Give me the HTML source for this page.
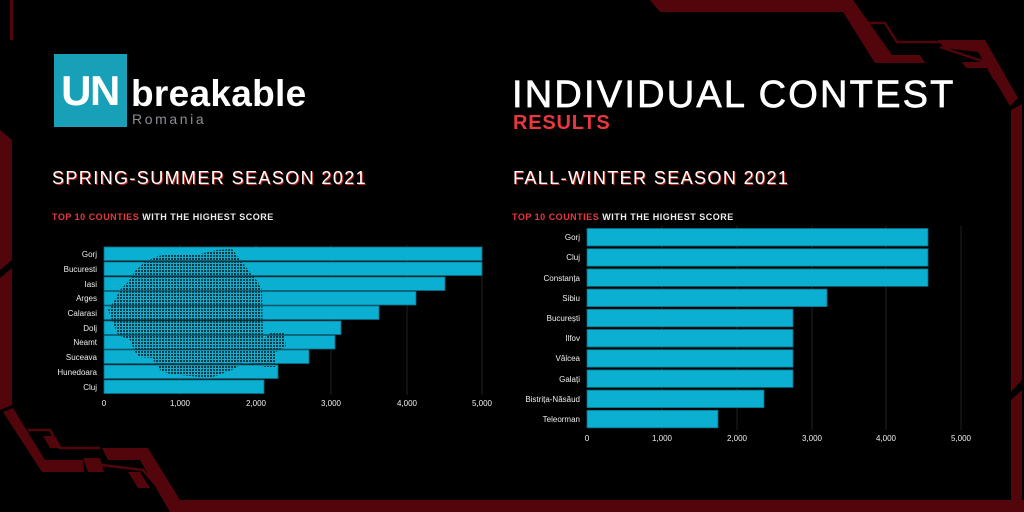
<!DOCTYPE html>
<html><head><meta charset="utf-8"><style>
body{margin:0;width:1024px;height:512px;background:#000;overflow:hidden;font-family:"Liberation Sans",sans-serif;}
svg{position:absolute;left:0;top:0}
</style></head><body>
<svg width="1024" height="512" viewBox="0 0 1024 512">
<defs>
<pattern id="dots" width="3" height="3" patternUnits="userSpaceOnUse"><rect width="2" height="2" fill="#123a44"/></pattern>
</defs>
<g fill="#52060b">
<!-- top -->
<polygon points="650,0 853,0 892,55 920,55 925,63 875,63 843,12 660,12"/>
<polygon points="938,40 985,40 1018,98 1010,106 978,52 944,48"/>
<polygon points="962,62 990,62 994,68 966,68"/>
<!-- right -->
<polygon points="1011,110 1022,104 1022,380 1011,392"/>
<polygon points="1011,400 1022,390 1022,512 1011,512"/>
<!-- left -->
<polygon points="0,130 12,140 12,260 0,270"/>
<polygon points="0,278 12,268 12,405 0,410"/>
<rect x="10" y="0" width="3" height="40"/>
<!-- bottom -->
<polygon points="3,412 13,408 45,460 83,460 84,472 42,472"/>
<polygon points="102,448 148,448 180,500 1024,500 1024,512 170,512 140,460 108,460"/>
<polygon points="43,436 55,436 62,448 50,448"/>
<polygon points="83,458 100,458 104,472 88,472"/>
<polygon points="128,472 140,472 150,488 138,488"/>
</g>
<g fill="none" stroke="#52060b" stroke-width="2.5">
<polyline points="28,430 50,430 60,448 100,448"/>
<polyline points="85,463 143,470 160,490"/>
<polyline points="865,23 885,23 897,42 940,42"/>
<polyline points="940,47 985,62 995,80"/>
</g>
<!-- logo -->
<rect x="54" y="54" width="73" height="73" fill="#17a0b8"/>
<text x="90" y="105" fill="#fff" font-size="42" font-weight="bold" text-anchor="middle" letter-spacing="-1.5">UN</text>
<text x="131" y="106" fill="#fff" font-size="37" font-weight="bold" letter-spacing="0.3">breakable</text>
<text x="132" y="124" fill="#8a8f96" font-size="14" letter-spacing="2.6">Romania</text>
<!-- headings -->
<text x="512" y="107" fill="#fff" stroke="#fff" stroke-width="0.7" font-size="38" letter-spacing="2.2">INDIVIDUAL CONTEST</text>
<text x="513" y="129" fill="#e8383f" font-size="20" font-weight="bold" letter-spacing="0.8">RESULTS</text>
<g font-size="18" letter-spacing="1.4">
<text x="53" y="185" fill="#b8281f">SPRING-SUMMER SEASON 2021</text>
<text x="52" y="184" fill="#fff">SPRING-SUMMER SEASON 2021</text>
<text x="514" y="185" fill="#b8281f">FALL-WINTER SEASON 2021</text>
<text x="513" y="184" fill="#fff">FALL-WINTER SEASON 2021</text>
</g>
<g font-size="9" font-weight="bold" letter-spacing="0.5">
<text x="52" y="220"><tspan fill="#e8383f">TOP 10 COUNTIES</tspan><tspan fill="#eee"> WITH THE HIGHEST SCORE</tspan></text>
<text x="512" y="220"><tspan fill="#e8383f">TOP 10 COUNTIES</tspan><tspan fill="#eee"> WITH THE HIGHEST SCORE</tspan></text>
</g>
<!-- left chart -->
<g stroke="#222" stroke-width="1">
<line x1="180" y1="245" x2="180" y2="395"/><line x1="256" y1="245" x2="256" y2="395"/><line x1="331" y1="245" x2="331" y2="395"/><line x1="407" y1="245" x2="407" y2="395"/><line x1="482" y1="245" x2="482" y2="395"/>
</g>
<g fill="#0bafd1" stroke="#0a6d82" stroke-width="0.8">
<rect x="104" y="247" width="378" height="13.5"/>
<rect x="104" y="262" width="378" height="13.5"/>
<rect x="104" y="277" width="341" height="13.5"/>
<rect x="104" y="291.5" width="312" height="13.5"/>
<rect x="104" y="306" width="275" height="13.5"/>
<rect x="104" y="321" width="237" height="13.5"/>
<rect x="104" y="335.5" width="231" height="13.5"/>
<rect x="104" y="350" width="205" height="13.5"/>
<rect x="104" y="365" width="174" height="13.5"/>
<rect x="104" y="380" width="160" height="13.5"/>
</g>
<polygon fill="url(#dots)" points="158,256 170,254 200,254 216,250 232,249 242,262 250,272 258,282 262,290 263,340 270,333 284,333 286,346 276,352 275,367 265,367 245,362 232,370 210,378 170,374 160,370 152,358 140,357 135,352 130,340 118,335 112,320 108,310 115,300 120,290 128,282 136,270 145,262"/>
<g fill="#eee" font-size="8" text-anchor="end">
<text x="97" y="257">Gorj</text><text x="97" y="272">Bucuresti</text><text x="97" y="287">Iasi</text><text x="97" y="301">Arges</text><text x="97" y="316">Calarasi</text><text x="97" y="331">Dolj</text><text x="97" y="345">Neamt</text><text x="97" y="360">Suceava</text><text x="97" y="375">Hunedoara</text><text x="97" y="390">Cluj</text>
</g>
<g fill="#eee" font-size="8" text-anchor="middle">
<text x="104" y="406">0</text><text x="180" y="406">1,000</text><text x="256" y="406">2,000</text><text x="331" y="406">3,000</text><text x="407" y="406">4,000</text><text x="482" y="406">5,000</text>
</g>
<!-- right chart -->
<g stroke="#222" stroke-width="1">
<line x1="662" y1="226" x2="662" y2="430"/><line x1="737" y1="226" x2="737" y2="430"/><line x1="812" y1="226" x2="812" y2="430"/><line x1="886" y1="226" x2="886" y2="430"/><line x1="961" y1="226" x2="961" y2="430"/>
</g>
<g fill="#0bafd1" stroke="#0a6d82" stroke-width="0.8">
<rect x="587" y="228.5" width="341" height="17.5"/>
<rect x="587" y="248.7" width="341" height="17.5"/>
<rect x="587" y="268.9" width="341" height="17.5"/>
<rect x="587" y="289.1" width="240" height="17.5"/>
<rect x="587" y="309.3" width="206" height="17.5"/>
<rect x="587" y="329.5" width="206" height="17.5"/>
<rect x="587" y="349.7" width="206" height="17.5"/>
<rect x="587" y="369.9" width="206" height="17.5"/>
<rect x="587" y="390.1" width="177" height="17.5"/>
<rect x="587" y="410.3" width="131" height="17.5"/>
</g>
<g fill="#eee" font-size="8" text-anchor="end">
<text x="580" y="240">Gorj</text><text x="580" y="260">Cluj</text><text x="580" y="281">Constanța</text><text x="580" y="301">Sibiu</text><text x="580" y="321">București</text><text x="580" y="341">Ilfov</text><text x="580" y="361">Vâlcea</text><text x="580" y="382">Galați</text><text x="580" y="402">Bistrița-Năsăud</text><text x="580" y="422">Teleorman</text>
</g>
<g fill="#eee" font-size="8" text-anchor="middle">
<text x="587" y="441">0</text><text x="662" y="441">1,000</text><text x="737" y="441">2,000</text><text x="812" y="441">3,000</text><text x="886" y="441">4,000</text><text x="961" y="441">5,000</text>
</g>
</svg>
</body></html>
